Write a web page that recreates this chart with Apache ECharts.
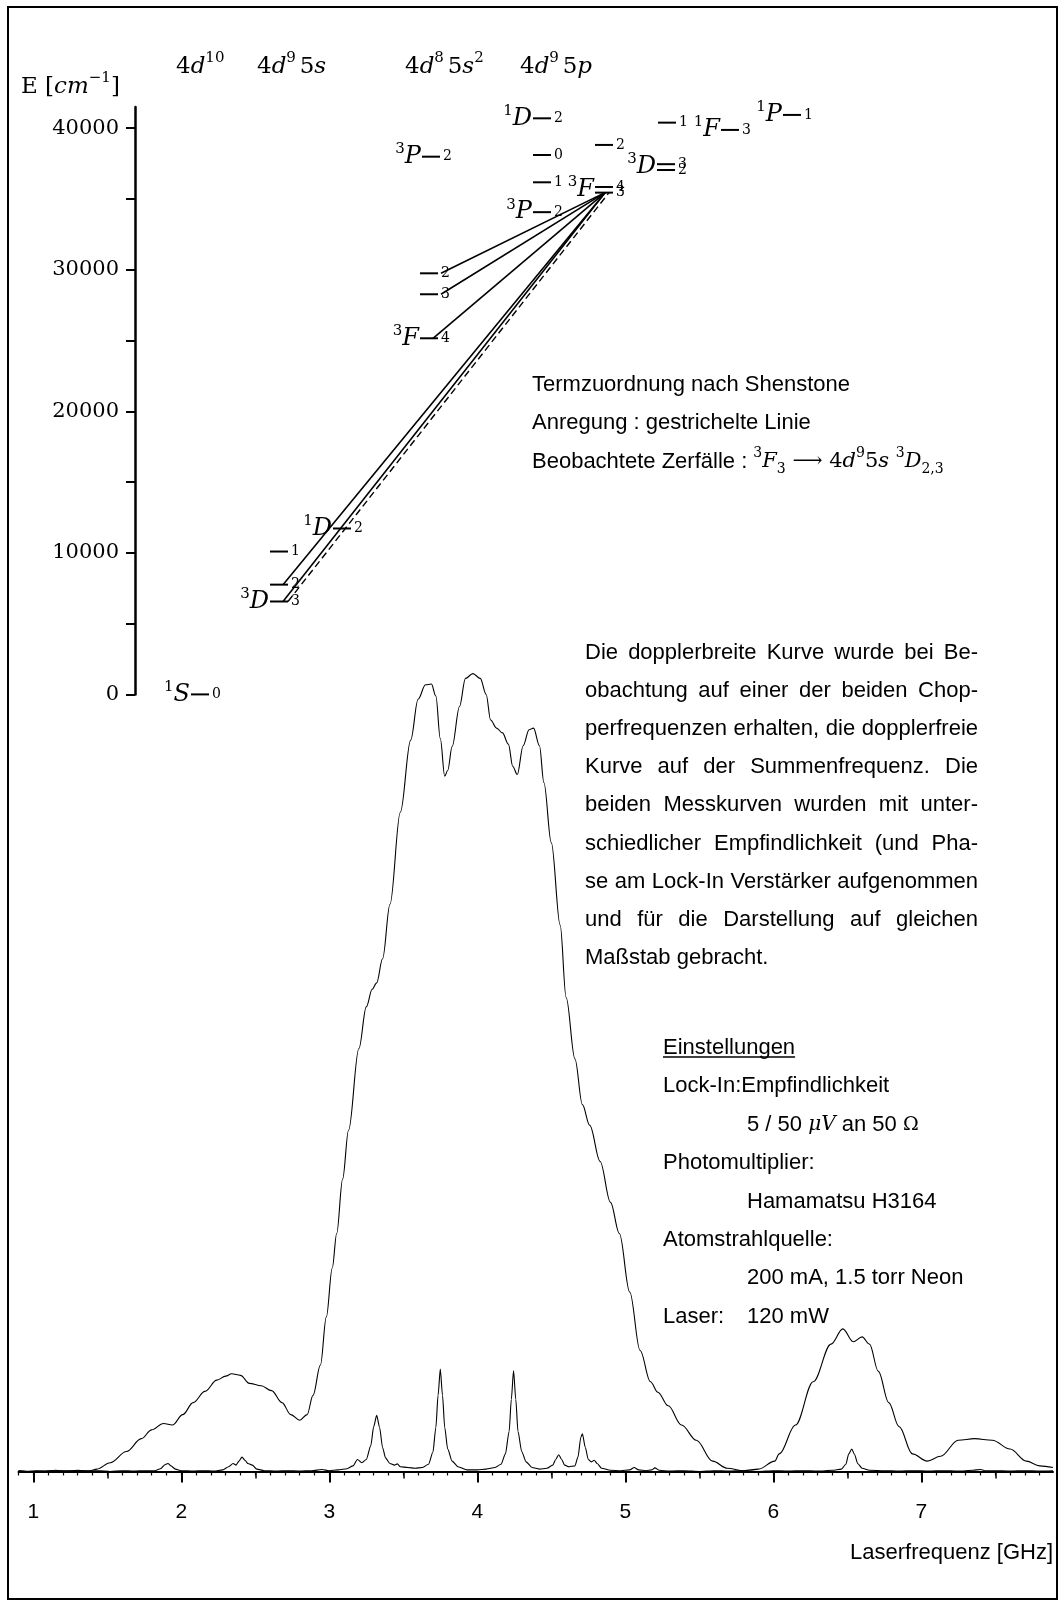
<!DOCTYPE html>
<html>
<head>
<meta charset="utf-8">
<title>Pd Termschema und Laserspektrum</title>
<script src="https://cdn.jsdelivr.net/npm/echarts@6.0.0/dist/echarts.min.js"></script>
<style>
html, body { margin: 0; padding: 0; background: #fff; }
#chart { width: 1061px; height: 1611px; }
</style>
</head>
<body>
<div id="chart"></div>
<script>
// ---------- Termschema: energy levels (cm^-1) ----------
const levelX      = [56, 135, 135, 135, 198, 285, 285, 285, 287, 398, 398, 398, 398, 460, 460, 460, 522, 522, 523, 586, 648];
const levelEnergy = [0, 6564, 7755, 10094, 11722, 25160, 28270, 29750, 37990, 34070, 36180, 38110, 40700, 35850, 35450, 38820, 37460, 37050, 40395, 39880, 40940];
const levelJ      = ['0', '3', '2', '1', '2', '4', '3', '2', '2', '2', '1', '0', '2', '4', '3', '2', '3', '2', '1', '3', '1'];

// term symbols, written to the left of their level(s)
const termMult   = ['1', '3', '1', '3', '3', '3', '1', '3', '3', '1', '1'];
const termLetter = ['S', 'D', 'D', 'F', 'P', 'P', 'D', 'F', 'D', 'F', 'P'];
const termX      = [56, 135, 198, 285, 287, 398, 398, 460, 522, 586, 648];
const termEnergy = [0, 6564, 11722, 25160, 37990, 34070, 40700, 35650, 37255, 39880, 40940];

// transitions between levels: start (x, E) -> end (x, E)
const transFrom   = [[306, 29750], [306, 28270], [298, 25160], [148, 7755], [148, 6564], [153, 6564]];
const transTo     = [[470, 35450], [470, 35450], [470, 35450], [470, 35450], [470, 35450], [474, 35450]];
const transDashed = [false, false, false, false, false, true];

// energy axis ticks
const energyTicks      = [0, 5000, 10000, 15000, 20000, 25000, 30000, 35000, 40000];
const energyTickLabels = [0, 10000, 20000, 30000, 40000];

// ---------- Spectrum: laser frequency (GHz) vs. signal ----------
const freqTickLabels = [1, 2, 3, 4, 5, 6, 7];
const freqHalfTicks  = [1.5, 2.5, 3.5, 4.5, 5.5, 6.5, 7.5];

// Doppler-broadened curve (chopper frequency)
const dopplerBroad = [
  [0.90,0.1],[1.00,0.0],[1.10,0.1],[1.20,0.1],[1.30,0.1],[1.38,0.1],[1.43,0.3],[1.52,1.1],[1.63,2.5],
  [1.73,4.1],[1.80,5.2],[1.88,6.0],[1.94,5.8],[2.01,7.1],[2.08,8.6],[2.16,10.0],[2.24,11.4],[2.30,11.9],
  [2.34,12.2],[2.40,12.0],[2.46,11.0],[2.54,10.7],[2.61,10.1],[2.68,8.6],[2.74,7.1],[2.80,6.4],[2.85,7.1],
  [2.89,9.5],[2.94,13.3],[2.98,19.3],[3.02,25.4],[3.05,29.7],[3.09,36.5],[3.13,42.6],[3.20,52.8],[3.25,58.0],
  [3.29,60.2],[3.32,61.0],[3.36,64.0],[3.41,70.8],[3.48,82.3],[3.55,91.3],[3.60,96.4],[3.65,98.2],[3.69,98.3],
  [3.72,96.8],[3.75,91.5],[3.78,86.8],[3.80,87.5],[3.83,90.5],[3.88,95.5],[3.92,99.0],[3.97,99.6],[4.02,99.0],
  [4.06,97.0],[4.09,93.8],[4.13,92.8],[4.17,92.2],[4.21,90.8],[4.24,88.0],[4.27,87.0],[4.31,90.6],[4.35,92.6],
  [4.38,92.8],[4.42,90.6],[4.45,86.0],[4.50,78.5],[4.56,68.2],[4.60,59.2],[4.66,51.5],[4.71,45.8],[4.76,43.2],
  [4.83,38.7],[4.90,33.6],[4.96,29.7],[5.03,22.4],[5.10,15.1],[5.17,11.2],[5.22,9.9],[5.29,8.2],[5.38,5.8],
  [5.48,3.9],[5.59,1.3],[5.69,0.4],[5.80,0.1],[5.90,0.3],[6.01,1.3],[6.04,2.2],[6.15,5.8],[6.27,11.2],
  [6.39,15.9],[6.47,17.8],[6.54,16.2],[6.60,16.8],[6.65,15.9],[6.71,12.5],[6.78,8.6],[6.85,5.6],[6.94,2.2],
  [7.04,1.3],[7.13,1.9],[7.25,3.9],[7.36,4.1],[7.48,3.9],[7.60,2.8],[7.71,1.3],[7.80,0.7],[7.89,0.5]
];

// Doppler-free curve (sum frequency)
const dopplerFree = [
  [0.90,0.1],[0.96,0.0],[1.02,0.1],[1.08,0.0],[1.15,0.15],[1.22,0.05],[1.30,0.15],[1.38,0.05],[1.45,0.1],
  [1.52,0.0],[1.60,0.1],[1.68,0.05],[1.75,0.1],[1.82,0.1],[1.86,0.35],[1.89,0.85],[1.91,1.0],[1.93,0.7],
  [1.96,0.3],[2.00,0.1],[2.08,0.05],[2.15,0.1],[2.22,0.05],[2.28,0.2],[2.32,0.6],[2.35,1.0],[2.37,0.8],
  [2.39,1.3],[2.41,1.8],[2.43,1.4],[2.45,1.0],[2.48,0.8],[2.51,0.3],[2.56,0.1],[2.64,0.05],[2.72,0.1],
  [2.80,0.05],[2.88,0.1],[2.95,0.25],[3.00,0.1],[3.06,0.2],[3.12,0.35],[3.16,0.7],[3.19,1.5],[3.22,1.1],
  [3.25,1.5],[3.28,3.2],[3.30,5.6],[3.32,7.0],[3.34,5.5],[3.36,3.0],[3.38,1.7],[3.41,1.0],[3.44,0.8],
  [3.46,0.95],[3.48,0.6],[3.53,0.5],[3.58,0.4],[3.63,0.5],[3.67,0.9],[3.70,2.4],[3.72,5.5],[3.735,9.5],
  [3.75,12.8],[3.765,9.5],[3.78,5.5],[3.80,2.8],[3.83,1.3],[3.87,0.6],[3.93,0.2],[4.00,0.2],[4.06,0.3],
  [4.12,0.5],[4.16,0.9],[4.19,2.2],[4.215,5.0],[4.23,9.0],[4.245,12.6],[4.26,9.0],[4.275,5.0],[4.30,2.5],
  [4.33,1.2],[4.37,0.5],[4.42,0.3],[4.47,0.4],[4.51,0.8],[4.53,1.5],[4.55,2.1],[4.57,1.5],[4.59,0.8],
  [4.62,0.6],[4.66,0.7],[4.68,1.8],[4.70,4.3],[4.71,4.7],[4.73,3.0],[4.75,1.5],[4.77,1.2],[4.79,1.4],
  [4.81,1.0],[4.84,0.4],[4.90,0.15],[4.97,0.1],[5.03,0.2],[5.06,0.5],[5.09,0.2],[5.14,0.1],[5.18,0.2],
  [5.20,0.45],[5.23,0.15],[5.30,0.05],[5.40,0.1],[5.50,0.0],[5.60,0.1],[5.70,0.05],[5.80,0.1],[5.90,0.0],
  [6.00,0.1],[6.10,0.05],[6.20,0.1],[6.30,0.05],[6.40,0.15],[6.46,0.3],[6.49,0.9],[6.51,2.2],[6.53,2.8],
  [6.55,2.1],[6.57,1.0],[6.60,0.4],[6.65,0.15],[6.75,0.1],[6.85,0.05],[6.95,0.1],[7.05,0.05],[7.15,0.1],
  [7.25,0.05],[7.35,0.15],[7.40,0.25],[7.43,0.1],[7.50,0.1],[7.60,0.05],[7.70,0.1],[7.80,0.05],[7.89,0.1]
];

// ---------- text ----------
const configLabels = [
  '{n|4}{i|d}{p|10}',
  '{n|4}{i|d}{p|9}{g| }{n|5}{i|s}',
  '{n|4}{i|d}{p|8}{g| }{n|5}{i|s}{p|2}',
  '{n|4}{i|d}{p|9}{g| }{n|5}{i|p}'
];
const infoLines = [
  '{s|Termzuordnung nach Shenstone}',
  '{s|Anregung : gestrichelte Linie}',
  '{s|Beobachtete Zerfälle : }{p|3}{i|F}{b|3}{a| ⟶ }{n|4}{i|d}{p|9}{n|5}{i|s }{p|3}{i|D}{b|2,3}'
];
const paragraphLines = [
  'Die dopplerbreite Kurve wurde bei Be-',
  'obachtung auf einer der beiden Chop-',
  'perfrequenzen erhalten, die dopplerfreie',
  'Kurve auf der Summenfrequenz. Die',
  'beiden Messkurven wurden mit unter-',
  'schiedlicher Empfindlichkeit (und Pha-',
  'se am Lock-In Verstärker aufgenommen',
  'und für die Darstellung auf gleichen',
  'Maßstab gebracht.'
];
const settingsLines = [
  ['Lock-In:Empfindlichkeit', 0],
  ['5 / 50 {mi|μV} an 50 {mo|Ω}', 1],
  ['Photomultiplier:', 0],
  ['Hamamatsu H3164', 1],
  ['Atomstrahlquelle:', 0],
  ['200 mA, 1.5 torr Neon', 1]
];

// ---------- styling helpers ----------
const SANS = '"Liberation Sans", Arial, sans-serif';
const SERIF = '"DejaVu Serif", serif';
const F_SANS = '22px ' + SANS;
const mathRich = {
  s:  { font: F_SANS, lineHeight: 30 },
  n:  { font: '21px ' + SERIF, lineHeight: 30 },
  i:  { font: 'italic 21px ' + SERIF, lineHeight: 30 },
  a:  { font: '21px ' + SERIF, lineHeight: 30 },
  p:  { font: '14px ' + SERIF, lineHeight: 16, verticalAlign: 'top' },
  b:  { font: '14px ' + SERIF, lineHeight: 16, verticalAlign: 'bottom' },
  g:  { font: '10px ' + SERIF, lineHeight: 30 },
  mi: { font: 'italic 20px ' + SERIF, lineHeight: 30 },
  mo: { font: '19px ' + SERIF, lineHeight: 30 }
};
// larger math set for the diagram headers
const headRich = {
  n:  { font: '23px ' + SERIF, lineHeight: 32 },
  i:  { font: 'italic 23px ' + SERIF, lineHeight: 32 },
  p:  { font: '15px ' + SERIF, lineHeight: 17, verticalAlign: 'top' },
  g:  { font: '12px ' + SERIF, lineHeight: 32 }
};

function textEl(x, y, text, extra) {
  return {
    type: 'text', x: x, y: y, silent: true,
    style: Object.assign({
      text: text, font: F_SANS, fill: '#000',
      align: 'left', textAlign: 'left',
      verticalAlign: 'middle', textVerticalAlign: 'middle',
      rich: mathRich
    }, extra || {})
  };
}

const measureCtx = document.createElement('canvas').getContext('2d');
function textWidth(t, font) { measureCtx.font = font; return measureCtx.measureText(t).width; }

// justified paragraph: every line but the last is stretched to full width
function justified(lines, left, right, top, step) {
  const els = [];
  lines.forEach((line, li) => {
    const y = top + li * step;
    const words = line.split(' ');
    if (li === lines.length - 1 || words.length < 2) {
      els.push(textEl(left, y, line, { rich: null }));
      return;
    }
    const widths = words.map(w => textWidth(w, F_SANS));
    const total = widths.reduce((a, b) => a + b, 0);
    const gap = (right - left - total) / (words.length - 1);
    let x = left;
    words.forEach((w, wi) => {
      els.push(textEl(x, y, w, { rich: null }));
      x += widths[wi] + gap;
    });
  });
  return els;
}

const graphics = [];
// outer frame
graphics.push({ type: 'rect', silent: true, z: 0,
  shape: { x: 8, y: 7, width: 1049, height: 1592 },
  style: { fill: 'none', stroke: '#000', lineWidth: 2 } });
// energy axis title and configuration headers
graphics.push(textEl(21, 87, '{n|E [}{i|cm}{p|−1}{n|]}', { rich: headRich }));
[176, 257, 405, 520].forEach((x, k) => graphics.push(textEl(x, 67, configLabels[k], { rich: headRich })));
// notes on term assignment
infoLines.forEach((t, k) => graphics.push(textEl(532, 385 + k * 38.3, t)));
// explanation paragraph
justified(paragraphLines, 585, 978, 653, 38.1).forEach(e => graphics.push(e));
// settings block
const setTop = 1048, setStep = 38.4;
graphics.push(textEl(663, setTop, 'Einstellungen', { rich: null }));
const underlineW = textWidth('Einstellungen', F_SANS);
graphics.push({ type: 'line', silent: true,
  shape: { x1: 663, y1: setTop + 9, x2: 663 + underlineW, y2: setTop + 9 },
  style: { stroke: '#000', lineWidth: 1.3 } });
settingsLines.forEach((s, k) => {
  graphics.push(textEl(s[1] ? 747 : 663, setTop + (k + 1) * setStep, s[0],
    { rich: mathRich, font: F_SANS }));
});
graphics.push(textEl(663, setTop + 7 * setStep, 'Laser:', { rich: null }));
graphics.push(textEl(747, setTop + 7 * setStep, '120 mW', { rich: null }));
// frequency axis name
graphics.push(textEl(1053, 1553, 'Laserfrequenz [GHz]', { rich: null, align: 'right', textAlign: 'right' }));

// ---------- renderers for the level scheme ----------
const LEVEL_LEN = 18;
function renderLevel(params, api) {
  const x = api.value(0), e = api.value(1);
  const p1 = api.coord([x, e]);
  const p2 = api.coord([x + LEVEL_LEN, e]);
  return {
    type: 'group',
    children: [
      { type: 'line', shape: { x1: p1[0], y1: p1[1], x2: p2[0], y2: p2[1] },
        style: { stroke: '#000', lineWidth: 2 } },
      { type: 'text', x: p2[0] + 3, y: p2[1],
        style: { text: levelJ[params.dataIndex], font: '14px ' + SERIF, fill: '#000',
                 align: 'left', textAlign: 'left', verticalAlign: 'middle', textVerticalAlign: 'middle' } }
    ]
  };
}
function renderTerm(params, api) {
  const p = api.coord([api.value(0), api.value(1)]);
  const i = params.dataIndex;
  return {
    type: 'text', x: p[0] - 1, y: p[1],
    style: {
      text: '{p|' + termMult[i] + '}{i|' + termLetter[i] + '}',
      rich: {
        p: { font: '15px ' + SERIF, lineHeight: 16, verticalAlign: 'top' },
        i: { font: 'italic 24px ' + SERIF, lineHeight: 30 }
      },
      fill: '#000', align: 'right', textAlign: 'right',
      verticalAlign: 'middle', textVerticalAlign: 'middle'
    }
  };
}
function renderTransition(params, api) {
  const a = api.coord([api.value(0), api.value(1)]);
  const b = api.coord([api.value(2), api.value(3)]);
  const dashed = transDashed[params.dataIndex];
  return {
    type: 'line',
    shape: { x1: a[0], y1: a[1], x2: b[0], y2: b[1] },
    style: { stroke: '#000', lineWidth: dashed ? 1.4 : 1.6, lineDash: dashed ? [7, 4] : null }
  };
}

const minorFreqTicks = [];
for (let k = 9; k <= 78; k++) minorFreqTicks.push(k / 10);

const chart = echarts.init(document.getElementById('chart'), null, { renderer: 'canvas' });
chart.setOption({
  animation: false,
  backgroundColor: '#fff',
  grid: [
    { left: 135, top: 107, width: 900, height: 587.4 },
    { left: 18.5, top: 670.4, width: 1034.5, height: 801.1 }
  ],
  xAxis: [
    { gridIndex: 0, type: 'value', min: 0, max: 900, show: false },
    { gridIndex: 1, type: 'value', min: 0.9, max: 7.89, position: 'bottom',
      axisLine: { show: true, onZero: false, lineStyle: { color: '#000', width: 2 } },
      axisTick: { show: true, customValues: freqTickLabels, length: 11, lineStyle: { color: '#000', width: 2 } },
      axisLabel: { show: true, customValues: freqTickLabels, formatter: v => String(v),
                   margin: 30, color: '#000', fontFamily: SANS, fontSize: 21 },
      splitLine: { show: false } },
    { gridIndex: 1, type: 'value', min: 0.9, max: 7.89, position: 'bottom',
      axisLine: { show: false, onZero: false },
      axisTick: { show: true, customValues: freqHalfTicks, length: 7, lineStyle: { color: '#000', width: 1.5 } },
      axisLabel: { show: false }, splitLine: { show: false } },
    { gridIndex: 1, type: 'value', min: 0.9, max: 7.89, position: 'bottom',
      axisLine: { show: false, onZero: false },
      axisTick: { show: true, customValues: minorFreqTicks, length: 4, lineStyle: { color: '#000', width: 1.2 } },
      axisLabel: { show: false }, splitLine: { show: false } }
  ],
  yAxis: [
    { gridIndex: 0, type: 'value', min: 0, max: 41500, position: 'left',
      axisLine: { show: true, lineStyle: { color: '#000', width: 2.5 } },
      axisTick: { show: true, customValues: energyTicks, length: 9, lineStyle: { color: '#000', width: 2 } },
      axisLabel: { show: true, customValues: energyTickLabels, formatter: v => String(v),
                   margin: 16, color: '#000', fontFamily: SERIF, fontSize: 21 },
      splitLine: { show: false } },
    { gridIndex: 1, type: 'value', min: 0, max: 100, show: false }
  ],
  graphic: { elements: graphics },
  series: [
    { type: 'custom', name: 'Übergänge', xAxisIndex: 0, yAxisIndex: 0, clip: false, silent: true,
      data: transFrom.map((f, k) => [f[0], f[1], transTo[k][0], transTo[k][1]]),
      renderItem: renderTransition },
    { type: 'custom', name: 'Niveaus', xAxisIndex: 0, yAxisIndex: 0, clip: false, silent: true,
      data: levelX.map((x, k) => [x, levelEnergy[k]]),
      renderItem: renderLevel },
    { type: 'custom', name: 'Terme', xAxisIndex: 0, yAxisIndex: 0, clip: false, silent: true,
      data: termX.map((x, k) => [x, termEnergy[k]]),
      renderItem: renderTerm },
    { type: 'line', name: 'dopplerbreit', xAxisIndex: 1, yAxisIndex: 1, data: dopplerBroad,
      symbol: 'none', smooth: 0.35, smoothMonotone: 'x', silent: true,
      lineStyle: { color: '#000', width: 1.1 } },
    { type: 'line', name: 'dopplerfrei', xAxisIndex: 1, yAxisIndex: 1, data: dopplerFree,
      symbol: 'none', smooth: 0.25, smoothMonotone: 'x', silent: true,
      lineStyle: { color: '#000', width: 1.1 } }
  ]
});
</script>
</body>
</html>
